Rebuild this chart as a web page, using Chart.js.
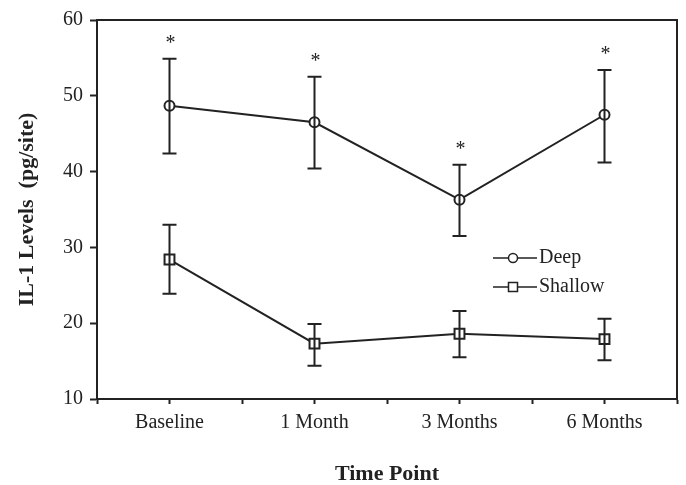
<!DOCTYPE html>
<html lang="en">
<head>
<meta charset="UTF-8">
<title>IL-1 Levels</title>
<script src="https://cdn.jsdelivr.net/npm/chart.js"></script>
<style>
  body { margin: 0; background: #fff; }
</style>
</head>
<body>
<canvas id="chart" width="686" height="485"></canvas>
<script>
// values
const timePoints = ['Baseline', '1 Month', '3 Months', '6 Months'];
const deepMean = [48.7, 46.5, 36.3, 47.5];
const deepHigh = [54.9, 52.5, 40.9, 53.4];
const deepLow = [42.4, 40.4, 31.5, 41.2];
const shallowMean = [28.4, 17.3, 18.6, 17.9];
const shallowHigh = [33.0, 19.9, 21.6, 20.6];
const shallowLow = [23.9, 14.4, 15.5, 15.1];
const deepSignificant = ['*', '*', '*', '*'];
const yRange = [10, 60];

const ink = '#222';
const serif = "'Liberation Serif', 'Times New Roman', serif";
Chart.defaults.font.family = serif;
Chart.defaults.color = ink;

function points(values) {
    return values.map((v, i) => ({ x: i, y: v }));
}

// error bars + significance stars
const errorBars = {
    id: 'errorBars',
    afterDatasetsDraw(chart) {
        const ctx = chart.ctx;
        const y = chart.scales.y;
        chart.data.datasets.forEach((ds, di) => {
            const meta = chart.getDatasetMeta(di);
            meta.data.forEach((pt, i) => {
                const top = y.getPixelForValue(ds.high[i]);
                const bot = y.getPixelForValue(ds.low[i]);
                ctx.save();
                ctx.strokeStyle = ink;
                ctx.lineWidth = 2;
                ctx.beginPath();
                ctx.moveTo(pt.x, top); ctx.lineTo(pt.x, bot);
                ctx.moveTo(pt.x - 7, top); ctx.lineTo(pt.x + 7, top);
                ctx.moveTo(pt.x - 7, bot); ctx.lineTo(pt.x + 7, bot);
                ctx.stroke();
                if (ds.marks && ds.marks[i]) {
                    ctx.fillStyle = ink;
                    ctx.font = '20px ' + serif;
                    ctx.textAlign = 'center';
                    ctx.textBaseline = 'alphabetic';
                    ctx.fillText(ds.marks[i], pt.x + 1, top - 10);
                }
                ctx.restore();
            });
        });
    }
};

// top and right edges of the frame
const frame = {
    id: 'frame',
    afterDraw(chart) {
        const { ctx, chartArea: a } = chart;
        ctx.save();
        ctx.strokeStyle = ink;
        ctx.lineWidth = 2;
        ctx.beginPath();
        ctx.moveTo(a.left, a.top); ctx.lineTo(a.right, a.top);
        ctx.lineTo(a.right, a.bottom);
        ctx.stroke();
        ctx.restore();
    }
};

// legend inside the plot: line with marker, then name
const innerLegend = {
    id: 'innerLegend',
    afterDraw(chart) {
        const ctx = chart.ctx;
        const x0 = 493, x1 = 537, mx = 513;
        chart.data.datasets.forEach((ds, i) => {
            const yy = 258 + i * 29;
            ctx.save();
            ctx.strokeStyle = ink;
            ctx.lineWidth = 1.5;
            ctx.beginPath();
            ctx.moveTo(x0, yy); ctx.lineTo(x1, yy);
            ctx.stroke();
            ctx.fillStyle = '#fff';
            ctx.lineWidth = 1.5;
            ctx.beginPath();
            if (ds.pointStyle === 'rect') {
                ctx.rect(mx - 4.5, yy - 4.5, 9, 9);
            } else {
                ctx.arc(mx, yy, 4.5, 0, Math.PI * 2);
            }
            ctx.fill();
            ctx.stroke();
            ctx.fillStyle = ink;
            ctx.font = '20px ' + serif;
            ctx.textAlign = 'left';
            ctx.textBaseline = 'middle';
            ctx.fillText(ds.label, x1 + 2, yy);
            ctx.restore();
        });
    }
};

new Chart(document.getElementById('chart'), {
    type: 'line',
    data: {
        datasets: [
            {
                label: 'Deep',
                data: points(deepMean),
                high: deepHigh,
                low: deepLow,
                marks: deepSignificant,
                borderColor: ink,
                borderWidth: 2,
                pointStyle: 'circle',
                pointRadius: 5,
                pointBorderWidth: 2,
                pointBackgroundColor: '#fff',
                pointBorderColor: ink
            },
            {
                label: 'Shallow',
                data: points(shallowMean),
                high: shallowHigh,
                low: shallowLow,
                borderColor: ink,
                borderWidth: 2,
                pointStyle: 'rect',
                pointRadius: 7,
                pointBorderWidth: 2,
                pointBackgroundColor: '#fff',
                pointBorderColor: ink
            }
        ]
    },
    options: {
        responsive: false,
        animation: false,
        layout: { padding: { top: 20, right: 6, left: 0, bottom: 0 } },
        plugins: {
            legend: { display: false },
            tooltip: { enabled: false }
        },
        scales: {
            x: {
                type: 'linear',
                min: -0.5,
                max: timePoints.length - 0.5,
                afterFit(scale) { scale.height = 86; },
                border: { color: ink, width: 2 },
                grid: { drawOnChartArea: false, tickLength: 5, tickColor: ink, tickWidth: 2 },
                ticks: {
                    stepSize: 0.5,
                    autoSkip: false,
                    maxRotation: 0,
                    padding: 7,
                    font: { size: 20 },
                    callback: v => Number.isInteger(v) ? timePoints[v] : ''
                },
                title: {
                    display: true,
                    text: 'Time Point',
                    font: { size: 22, weight: 'bold', lineHeight: 1 },
                    padding: { top: 0, bottom: 0 }
                }
            },
            y: {
                min: yRange[0],
                max: yRange[1],
                afterFit(scale) { scale.width = 97; },
                border: { color: ink, width: 2 },
                grid: { drawOnChartArea: false, tickLength: 7, tickColor: ink, tickWidth: 2 },
                ticks: {
                    stepSize: 10,
                    padding: 7,
                    font: { size: 20 }
                },
                title: {
                    display: true,
                    text: 'IL-1 Levels  (pg/site)',
                    font: { size: 22, weight: 'bold' },
                    padding: { top: 14, bottom: 0 }
                }
            }
        }
    },
    plugins: [errorBars, frame, innerLegend]
});
</script>
</body>
</html>
